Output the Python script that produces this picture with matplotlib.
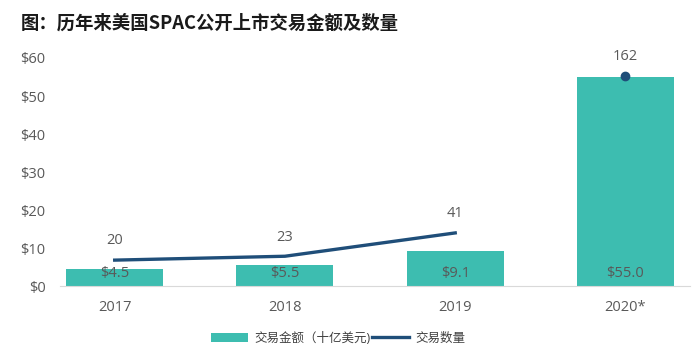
import matplotlib.pyplot as plt
import numpy as np

plt.rcParams['font.family'] = ['Open Sans', 'Noto Sans CJK SC', 'DejaVu Sans']

years = ['2017', '2018', '2019', '2020*']
amounts = [4.5, 5.5, 9.1, 55.0]
counts = [20, 23, 41, 162]

bar_color = '#3dbdb0'
line_color = '#1f4e79'
text_color = '#595959'

fig = plt.figure(figsize=(7, 3.58), dpi=100)
ax = fig.add_axes([0.086, 0.201, 0.9, 0.637])
x = np.arange(len(years))

ax.bar(x, amounts, width=0.57, color=bar_color, label='交易金额（十亿美元)', zorder=2)
for xi, v in zip(x, amounts):
    ax.text(xi, 1.2, f'${v:.1f}', ha='center', va='bottom', fontsize=10.5, color=text_color, zorder=5)

ax.set_ylim(0, 60)
ax.set_xlim(-0.32, 3.38)
ax.set_yticks(range(0, 61, 10))
ax.set_yticklabels([f'${t}' for t in range(0, 61, 10)])
ax.set_xticks(x)
ax.set_xticklabels(years)
ax.tick_params(length=0, labelsize=10.5, labelcolor=text_color)
ax.tick_params(axis='x', pad=10)
ax.tick_params(axis='y', pad=10.5)
for s in ['top', 'right', 'left']:
    ax.spines[s].set_visible(False)
ax.spines['bottom'].set_color('#d9d9d9')

ax2 = ax.twinx()
ax2.set_ylim(0, 176)
ax2.plot(x[:3], counts[:3], color=line_color, lw=2.4, label='交易数量', zorder=3)
ax2.plot(x[3], counts[3], 'o', color=line_color, ms=6, zorder=3)
for xi, c in zip(x, counts):
    ax2.text(xi, c + 9, str(c), ha='center', va='bottom', fontsize=10.5, color=text_color)
ax2.axis('off')

h1, l1 = ax.get_legend_handles_labels()
h2, l2 = ax2.get_legend_handles_labels()
fig.legend(h1 + h2, l1 + l2, loc='center', bbox_to_anchor=(0.483, 0.055), ncol=2,
           frameon=False, fontsize=9, handlelength=3.0, columnspacing=0.1,
           handletextpad=0.5, labelcolor='#404040')

fig.text(0.03, 0.935, '图：历年来美国SPAC公开上市交易金额及数量', fontsize=13.2, fontweight='bold',
         family=['Noto Sans CJK SC'], color='#1a1a1a', va='center')

fig.savefig('out.png')
